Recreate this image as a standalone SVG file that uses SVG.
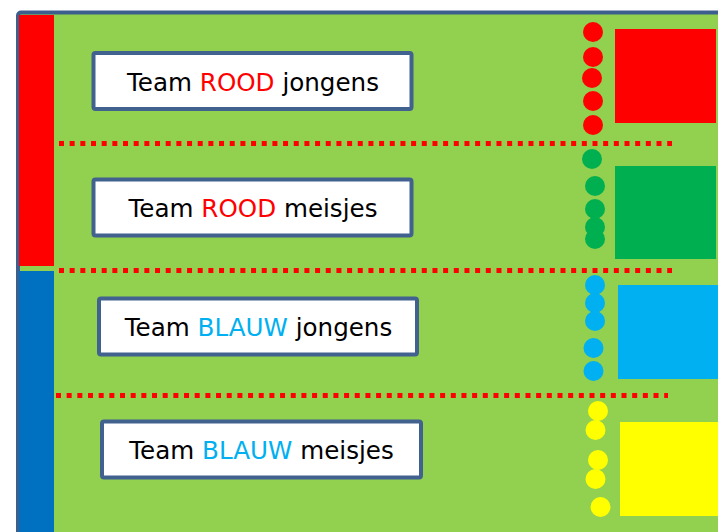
<svg xmlns="http://www.w3.org/2000/svg" width="718" height="532" viewBox="0 0 718 532">
  <style>
    .frame { fill: #92D050; stroke: #3C5F8D; stroke-width: 4; }
    .label-box { fill: #FFFFFF; stroke: #41618F; stroke-width: 4; }
    .label { font-family: "DejaVu Sans", Verdana, sans-serif; font-size: 24.6px; fill: #000000; text-anchor: middle; }
    .red-text { fill: #FF0000; }
    .blue-text { fill: #00B0F0; }
    .divider { stroke: #FF0000; stroke-width: 5; stroke-dasharray: 5 5.67; fill: none; }
    .red { fill: #FF0000; }
    .green { fill: #00B050; }
    .cyan { fill: #00B0F0; }
    .yellow { fill: #FFFF00; }
  </style>

  <rect width="718" height="532" fill="#FFFFFF"/>

  <!-- playing field -->
  <g id="field">
    <rect class="frame" x="18" y="12.5" width="720" height="540" rx="3"/>
    <rect x="19" y="15" width="35" height="251" fill="#FF0000"/>
    <rect x="19" y="271" width="35" height="265" fill="#0070C0"/>
  </g>

  <!-- dotted dividers -->
  <g id="connectors">
    <line class="divider" x1="59" y1="143.5" x2="672" y2="143.5"/>
    <line class="divider" x1="59" y1="270.5" x2="672" y2="270.5"/>
    <line class="divider" x1="56" y1="395.5" x2="668" y2="395.5"/>
  </g>

  <g id="team-rood-jongens">
    <rect class="label-box" x="93.5" y="53" width="318" height="56" rx="2"/>
    <text class="label" x="253" y="91">Team <tspan class="red-text">ROOD</tspan> jongens</text>
  </g>

  <g id="team-rood-meisjes">
    <rect class="label-box" x="93.5" y="179.5" width="318" height="56" rx="2"/>
    <text class="label" x="253" y="217">Team <tspan class="red-text">ROOD</tspan> meisjes</text>
  </g>

  <g id="team-blauw-jongens">
    <rect class="label-box" x="99" y="298.5" width="318" height="56" rx="2"/>
    <text class="label" x="258.5" y="336">Team <tspan class="blue-text">BLAUW</tspan> jongens</text>
  </g>

  <g id="team-blauw-meisjes">
    <rect class="label-box" x="102" y="421.5" width="319" height="56" rx="2"/>
    <text class="label" x="261.5" y="459">Team <tspan class="blue-text">BLAUW</tspan> meisjes</text>
  </g>

  <!-- team zones -->
  <g id="zone-red">
    <rect class="red" x="615" y="29" width="101" height="94"/>
    <circle class="red" cx="593" cy="32" r="10"/>
    <circle class="red" cx="593" cy="57" r="10"/>
    <circle class="red" cx="592" cy="78" r="10"/>
    <circle class="red" cx="593" cy="101" r="10"/>
    <circle class="red" cx="593" cy="125" r="10"/>
  </g>

  <g id="zone-green">
    <rect class="green" x="615" y="166" width="101" height="93"/>
    <circle class="green" cx="592" cy="159" r="10"/>
    <circle class="green" cx="595" cy="186" r="10"/>
    <circle class="green" cx="595" cy="209" r="10"/>
    <circle class="green" cx="595" cy="227" r="10"/>
    <circle class="green" cx="595" cy="239" r="10"/>
  </g>

  <g id="zone-blue">
    <rect class="cyan" x="618" y="285" width="100" height="94"/>
    <circle class="cyan" cx="595" cy="285" r="10"/>
    <circle class="cyan" cx="595" cy="303" r="10"/>
    <circle class="cyan" cx="595" cy="321" r="10"/>
    <circle class="cyan" cx="593.5" cy="348" r="10"/>
    <circle class="cyan" cx="593.5" cy="371" r="10"/>
  </g>

  <g id="zone-yellow">
    <rect class="yellow" x="620" y="422" width="100" height="94"/>
    <circle class="yellow" cx="598" cy="411" r="10"/>
    <circle class="yellow" cx="595.5" cy="430" r="10"/>
    <circle class="yellow" cx="598" cy="460" r="10"/>
    <circle class="yellow" cx="595.5" cy="479" r="10"/>
    <circle class="yellow" cx="600.5" cy="507" r="10"/>
  </g>
</svg>
